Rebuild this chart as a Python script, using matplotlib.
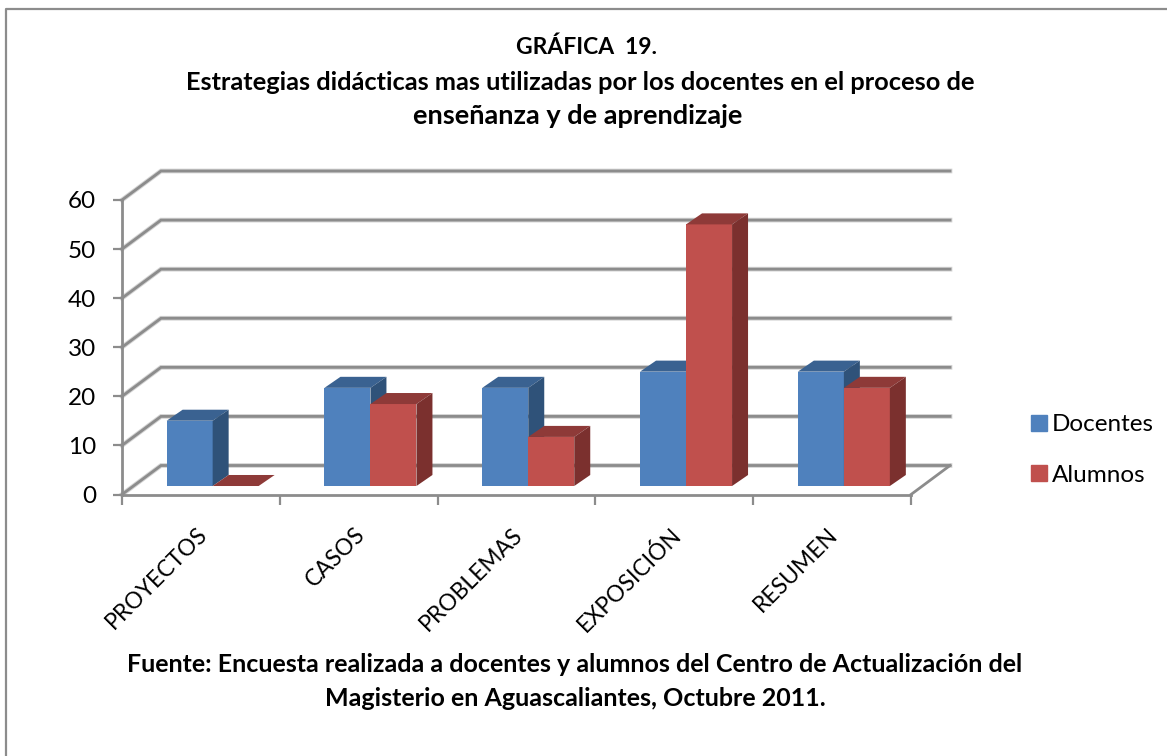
import numpy as np
import matplotlib
matplotlib.use('Agg')
import matplotlib.pyplot as plt
from matplotlib.lines import Line2D
from matplotlib.patches import Patch

categories = ['PROYECTOS', 'CASOS', 'PROBLEMAS', 'EXPOSICIÓN', 'RESUMEN']
docentes = [13.3, 20, 20, 23.3, 23.3]
alumnos = [0, 16.7, 10, 53.3, 20]
y_ticks = [0, 10, 20, 30, 40, 50, 60]

W, H = 1167, 756
LEFT, RIGHT, BOTTOM, TOP = 122, 911, 494.5, 200
GRID = '#8c8c8c'
FONT = 'Lato'

# how far the back wall is shifted, in data units
depth_x = 39 / ((RIGHT - LEFT) / len(categories))
depth_y = 29 / ((BOTTOM - TOP) / y_ticks[-1])

bar_w = 0.2915
bar_start = 0.283
base = 1.73
side_x = 0.41 * depth_x
side_y = 0.38 * depth_y


def draw_bars(ax, xs, values, front, top, side):
    ax.bar(xs, values, bar_w, bottom=base, align='edge', color=front, zorder=3, clip_on=False)
    for x, v in zip(xs, values):
        y = base + v
        ax.fill([x, x + bar_w, x + bar_w + side_x, x + side_x],
                [y, y, y + side_y, y + side_y], color=top, lw=0, zorder=3, clip_on=False)
        if v > 0:
            ax.fill([x + bar_w, x + bar_w + side_x, x + bar_w + side_x, x + bar_w],
                    [base, base + side_y, y + side_y, y], color=side, lw=0, zorder=3, clip_on=False)


def main():
    fig = plt.figure(figsize=(W / 100, H / 100), dpi=100)
    ax = fig.add_axes([LEFT / W, 1 - BOTTOM / H, (RIGHT - LEFT) / W, (BOTTOM - TOP) / H])
    n = len(categories)
    ax.set_xlim(0, n)
    ax.set_ylim(y_ticks[0], y_ticks[-1])
    ax.patch.set_visible(False)

    # walls and floor
    for v in y_ticks:
        ax.plot([0, depth_x, n + depth_x], [v, v + depth_y, v + depth_y],
                color='#d4d4d4', lw=3.4, zorder=1, clip_on=False, solid_joinstyle='miter')
        ax.plot([0, depth_x, n + depth_x], [v, v + depth_y, v + depth_y],
                color=GRID, lw=2, zorder=2, clip_on=False, solid_joinstyle='miter')
    ax.plot([n, n + depth_x], [0, depth_y], color=GRID, lw=2, zorder=2, clip_on=False)

    xs = np.arange(n) + bar_start
    draw_bars(ax, xs, docentes, '#4F81BD', '#3A6291', '#2F5279')
    draw_bars(ax, xs + bar_w, alumnos, '#C0504D', '#8E3A38', '#7B302E')

    for name in ['top', 'right']:
        ax.spines[name].set_visible(False)
    for name in ['left', 'bottom']:
        ax.spines[name].set_color(GRID)
        ax.spines[name].set_linewidth(2)
        ax.spines[name].set_zorder(2)

    ax.set_yticks(y_ticks)
    ax.tick_params(axis='y', length=6.5, width=1.6, color=GRID, labelsize=17.5, pad=12)
    ax.set_xticks(np.arange(n + 1))
    ax.set_xticklabels([])
    ax.tick_params(axis='x', which='major', length=7, width=1.6, color=GRID)
    ax.set_xticks(np.arange(n) + 0.47, minor=True)
    ax.set_xticklabels(categories, minor=True, rotation=45, ha='right',
                       rotation_mode='anchor', fontsize=16.5)
    ax.tick_params(axis='x', which='minor', length=0, pad=21)
    for lab in ax.get_yticklabels() + ax.get_xticklabels(minor=True):
        lab.set_fontfamily(FONT)

    handles = [Patch(color='#4F81BD', label='Docentes'), Patch(color='#C0504D', label='Alumnos')]
    fig.legend(handles=handles, loc='center left', bbox_to_anchor=(1009 / W, 1 - 450 / H),
               frameon=False, handlelength=0.65, handleheight=0.65, handletextpad=0.2,
               labelspacing=1.2, prop={'family': FONT, 'size': 17.5})

    # titles
    title = ['GRÁFICA  19.',
             'Estrategias didácticas mas utilizadas por los docentes en el proceso de',
             'enseñanza y de aprendizaje']
    for txt, px, py, size in zip(title, [587, 580, 578], [47, 82, 116], [16.5, 18.3, 19.5]):
        fig.text(px / W, 1 - py / H, txt, ha='center', va='center', family=FONT,
                 fontweight='bold', fontsize=size)
    source = ['Fuente: Encuesta realizada a docentes y alumnos del Centro de Actualización del',
              'Magisterio en Aguascaliantes, Octubre 2011.']
    for txt, py in zip(source, [664, 698]):
        fig.text(575 / W, 1 - py / H, txt, ha='center', va='center', family=FONT,
                 fontweight='bold', fontsize=18)

    # page frame
    fig.add_artist(Line2D([6 / W, 6 / W, 1], [0, 1 - 9 / H, 1 - 9 / H], color='#8c8c8c', lw=1.6))

    fig.savefig('out.png', dpi=100)


if __name__ == '__main__':
    main()
